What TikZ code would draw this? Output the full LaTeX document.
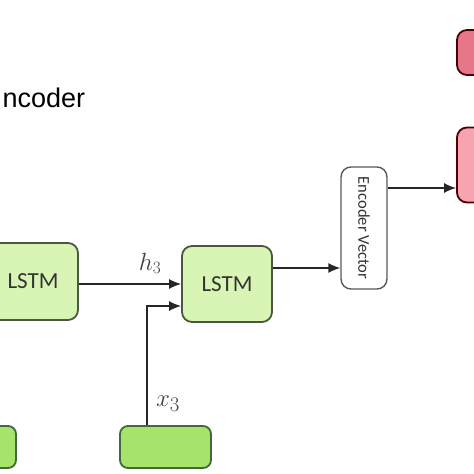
\documentclass[tikz,border=0pt]{standalone}
\usepackage{fontspec}
\setmainfont{Carlito}
\newfontfamily\arialfont{Liberation Sans}
\usepackage{tikz}
\usetikzlibrary{arrows.meta, positioning}
\definecolor{cellfill}{HTML}{D9F5B5}
\definecolor{inpfill}{HTML}{A6E36A}
\definecolor{boxline}{HTML}{4A5840}
\definecolor{pinkA}{HTML}{E8768A}
\definecolor{pinkB}{HTML}{F7A3B0}
\tikzstyle{box}=[draw=boxline, line width=1.8pt, rounded corners=10pt, inner sep=0pt, text=black!80]
\tikzstyle{cell}=[box, fill=cellfill, minimum width=90pt, minimum height=77pt, font=\fontsize{23}{26}\selectfont]
\tikzstyle{inp}=[box, fill=inpfill, draw=boxline!90!green, rounded corners=8pt, minimum width=91pt, minimum height=42pt]
\tikzstyle{dec}=[box, draw=black!70!red, minimum width=90pt]
\tikzstyle{enc}=[box, draw=black!65, fill=white, line width=1.4pt, minimum width=46pt, minimum height=122pt, font=\fontsize{16.5}{18}\selectfont]
\tikzstyle{arr}=[line width=1.4pt, draw=black!85, -{Latex[length=12pt,width=10pt]}]

\begin{document}
\begin{tikzpicture}[x=1pt, y=-1pt]
 \useasboundingbox (0,0) rectangle (474,474);
 \clip (0,0) rectangle (474,474);

 \node[anchor=base west, font=\arialfont\fontsize{27}{30}\selectfont] (title) at (-1,107) {ncoder};

 % encoder cells
 \node[cell] (lstm2) at (33,281.5) {LSTM};
 \node[cell, minimum height=76pt] (lstm3) at (227,284) {LSTM};
 \node[inp] (x2) at (-29.5,447) {};
 \node[inp] (x3) at (165.5,447) {};
 \node[enc] (enc) at (364,228) {\rotatebox{-90}{Encoder Vector}};

 % decoder side
 \node[dec, fill=pinkA, minimum height=45pt] (dec1) at (502,52.5) {};
 \node[dec, fill=pinkB, minimum height=75pt] (dec2) at (502,165) {};

 \draw[arr] (lstm2.east |- lstm3.west) -- node[above=6pt, font=\fontsize{24}{26}\selectfont, text=black!75, xshift=20pt] {$h_3$} (lstm3.west);
 \draw[arr] ([xshift=28pt]x3.north west) |- node[pos=0.25, right=5pt, font=\fontsize{30}{32}\selectfont, text=black!75, yshift=-38pt] {$x_3$} ([yshift=-22pt]lstm3.west);
 \draw[arr] ([yshift=16pt]lstm3.east) -- ([yshift=16pt]lstm3.east -| enc.west);
 \draw[arr] ([yshift=40pt]enc.east) -- ([yshift=40pt]enc.east -| dec2.west);
\end{tikzpicture}
\end{document}
